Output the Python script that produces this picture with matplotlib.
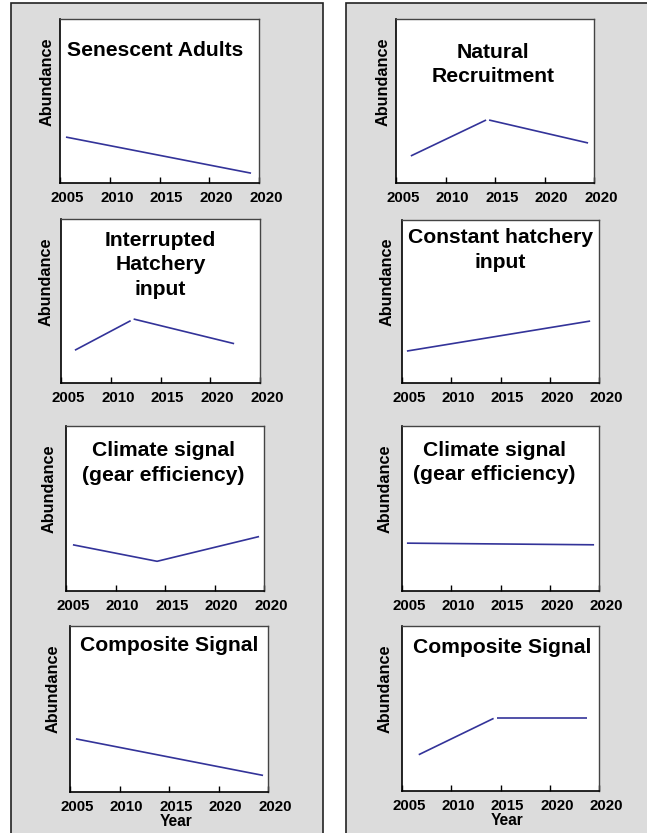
import matplotlib
matplotlib.use("Agg")
import matplotlib.pyplot as plt
from matplotlib.patches import Rectangle
from matplotlib.transforms import ScaledTranslation

plt.rcParams['font.family'] = ['Liberation Sans', 'DejaVu Sans']
plt.rcParams['font.weight'] = 'bold'

# ---------------- data ----------------
tick_years = [2005, 2010, 2015, 2020, 2025]
tick_labels = ['2005', '2010', '2015', '2020', '2020']

titles = ["Senescent Adults", "Natural\nRecruitment",
          "Interrupted\nHatchery\ninput", "Constant hatchery\ninput",
          "Climate signal\n(gear efficiency)", "Climate signal\n(gear efficiency)",
          "Composite Signal", "Composite Signal"]

# each panel: list of line segments (years, abundance)
senescent_x = [[2005.6, 2024.2]]
senescent_y = [[2.8, 0.6]]
natural_x = [[2006.5, 2014.1], [2014.4, 2024.4]]
natural_y = [[1.65, 3.84], [3.84, 2.44]]
interrupted_x = [[2006.4, 2012.0], [2012.3, 2022.4]]
interrupted_y = [[2.0, 3.8], [3.9, 2.4]]
constant_x = [[2005.5, 2024.1]]
constant_y = [[1.96, 3.8]]
climate_a_x = [[2005.7, 2014.2, 2024.5]]
climate_a_y = [[2.8, 1.8, 3.3]]
climate_b_x = [[2005.5, 2024.5]]
climate_b_y = [[2.9, 2.8]]
composite_a_x = [[2005.6, 2024.5]]
composite_a_y = [[3.2, 1.0]]
composite_b_x = [[2006.7, 2014.3], [2014.6, 2023.8]]
composite_b_y = [[2.2, 4.4], [4.4, 4.4]]

series_x = [senescent_x, natural_x, interrupted_x, constant_x,
            climate_a_x, climate_b_x, composite_a_x, composite_b_x]
series_y = [senescent_y, natural_y, interrupted_y, constant_y,
            climate_a_y, climate_b_y, composite_a_y, composite_b_y]

# ---------------- layout (pixels) ----------------
W, H = 647, 833
# (left, top, right, bottom) in pixels
rects = [(60, 19, 259, 183), (396, 19, 594, 183),
         (61, 219, 260, 383), (402, 220, 599, 383),
         (66, 426, 264, 591), (402, 426, 599, 591),
         (70, 626, 268, 792), (402, 626, 599, 791)]
title_pos = [(0.48, 0.81), (0.49, 0.723), (0.5, 0.72), (0.5, 0.816),
             (0.49, 0.776), (0.47, 0.78), (0.5, 0.88), (0.51, 0.87)]
ylab_x = [-0.065, -0.066, -0.075, -0.076, -0.086, -0.086, -0.086, -0.086]

fig = plt.figure(figsize=(W / 100, H / 100), dpi=100)
fig.patch.set_facecolor('white')

# grey panel boxes
for (x0, x1) in [(11, 323), (346, 655)]:
    fig.patches.append(Rectangle((x0 / W, -10 / H), (x1 - x0) / W, (H - 3 + 10) / H,
                                 transform=fig.transFigure, facecolor='#dcdcdc',
                                 edgecolor='#222222', linewidth=1.2, zorder=-5))

offset = ScaledTranslation(7 / 100, 0, fig.dpi_scale_trans)

for i in range(8):
    l, t, r, b = rects[i]
    ax = fig.add_axes([l / W, (H - b) / H, (r - l) / W, (b - t) / H])
    ax.set_zorder(2)
    ax.set_facecolor('white')
    for xs, ys in zip(series_x[i], series_y[i]):
        ax.plot(xs, ys, color='#333399', linewidth=1.2, solid_capstyle='butt')
    ax.set_xlim(2005, 2025)
    ax.set_ylim(0, 10)
    ax.set_yticks([])
    ax.set_xticks(tick_years)
    ax.set_xticklabels(tick_labels, fontsize=10.8, fontweight='bold')
    ax.tick_params(axis='x', direction='in', length=4, width=1, pad=6, color='black')
    for lbl in ax.get_xticklabels():
        lbl.set_transform(lbl.get_transform() + offset)
    for side in ['left', 'bottom']:
        ax.spines[side].set_linewidth(1.2)
        ax.spines[side].set_color('black')
    for side in ['top', 'right']:
        ax.spines[side].set_linewidth(1.0)
        ax.spines[side].set_color('#444444')
    ax.set_ylabel('Abundance', fontsize=11.7, fontweight='bold', va='center')
    ax.yaxis.set_label_coords(ylab_x[i], 0.62)
    tx, ty = title_pos[i]
    ax.text(tx, ty, titles[i], transform=ax.transAxes, ha='center', va='center',
            multialignment='center', fontsize=15.2, fontweight='bold',
            linespacing=1.35)
    if i >= 6:
        ax.set_xlabel('Year', fontsize=11.2, fontweight='bold')
        ax.xaxis.set_label_coords(0.5 + 7 / (r - l), -0.133)

fig.savefig('out.png', dpi=100, facecolor='white')
